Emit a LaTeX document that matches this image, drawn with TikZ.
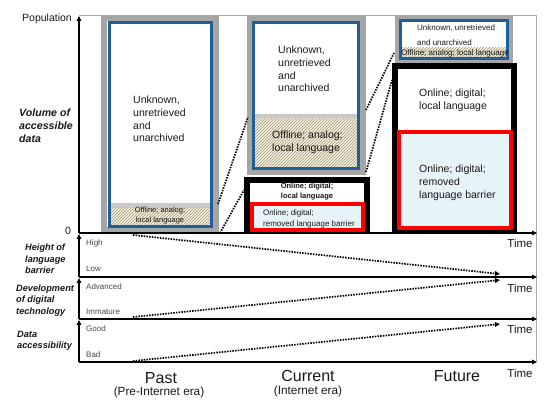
\documentclass[tikz,border=0pt]{standalone}
\usepackage{fontspec}
\setmainfont{Liberation Sans}
\usetikzlibrary{patterns,arrows.meta}
\definecolor{boxgray}{RGB}{166,166,166}
\definecolor{boxblue}{RGB}{31,94,153}
\definecolor{hatchbg}{RGB}{243,239,222}
\definecolor{hatchln}{RGB}{165,155,125}
\definecolor{stripgray}{RGB}{200,200,200}
\definecolor{lightcyan}{RGB}{230,243,247}
\definecolor{framegray}{RGB}{170,170,170}
\definecolor{txt}{RGB}{25,25,25}
\begin{document}
\begin{tikzpicture}[x=1pt,y=-1pt,
  graybox/.style={draw=boxgray,line width=6pt},
  bluebox/.style={draw=boxblue,line width=3pt},
  blackbox/.style={draw=black,line width=5.5pt},
  redbox/.style={draw=red,line width=4pt,fill=lightcyan},
  hatchfill/.style={pattern=north east lines,pattern color=hatchln},
  axisline/.style={line width=1.8pt,draw=black},
  axisarrow/.style={axisline,-{Triangle[length=5pt,width=4.5pt]}},
  dotline/.style={line width=1.7pt,dash pattern=on 1.5pt off 1.2pt},
  dotarrow/.style={dotline,-{Triangle[length=5pt,width=4.5pt]}},
  lbl/.style={inner sep=0pt,text=txt,font=\fontsize{10.5}{12.8}\selectfont,align=left,anchor=west},
  sidelbl/.style={inner sep=0pt,text=txt,font=\fontsize{9.2}{11.4}\selectfont\bfseries\itshape,align=left,anchor=west},
  ticklbl/.style={inner sep=0pt,text=txt!80,font=\fontsize{8}{9}\selectfont,anchor=west},
  timelbl/.style={inner sep=0pt,text=txt,font=\fontsize{11.5}{13}\selectfont},
  eralbl/.style={inner sep=0pt,text=txt,font=\fontsize{16}{18}\selectfont},
  erasub/.style={inner sep=0pt,text=txt,font=\fontsize{11.8}{13}\selectfont},
]
\useasboundingbox[fill=white] (0,0) rectangle (550,411);

% ---------- frame ----------
\draw[framegray,line width=1pt] (79,16) -- (536,16) -- (536,362);

% ---------- Past box ----------
\fill[white] (109,22.5) rectangle (211,226.5);
\fill[hatchbg] (109,204) rectangle (211,226.5);
\fill[hatchfill] (109,204) rectangle (211,226.5);
\fill[stripgray] (109,203) rectangle (211,208);
\draw[graybox] (104,18) rectangle (216,230);
\draw[bluebox] (109,22.5) rectangle (211,226.5);
\node[lbl] (pastunk) at (133,119) {Unknown,\\unretrieved\\and\\unarchived};
\node[inner sep=0pt,text=txt,font=\fontsize{7.5}{10}\selectfont,align=center] (pastoff) at (160,216) {Offline; analog;\\local language};

% ---------- Current boxes ----------
\fill[white] (253.5,22.3) rectangle (358.3,168.3);
\fill[hatchbg] (253.5,115) rectangle (358.3,168.3);
\fill[hatchfill] (253.5,115) rectangle (358.3,168.3);
\fill[stripgray] (253.5,114) rectangle (358.3,118);
\draw[graybox] (250,18) rectangle (363,172);
\draw[bluebox] (253.5,22.3) rectangle (358.3,168.3);
\node[lbl] (curunk) at (278,69) {Unknown,\\unretrieved\\and\\unarchived};
\node[lbl] (curoff) at (272,142) {Offline; analog;\\local language};

\fill[white] (247,180) rectangle (367,230.5);
\draw[blackbox] (247,180) rectangle (367,230.5);
\draw[redbox] (252,204.5) rectangle (363,230);
\node[inner sep=0pt,text=txt,font=\fontsize{7.5}{10}\selectfont\bfseries,align=center] (curloc) at (307,192) {Online; digital;\\local language};
\node[inner sep=0pt,text=txt,font=\fontsize{8}{11}\selectfont,align=left,anchor=west] (currem) at (263,218.5) {Online; digital;\\removed language barrier};

% ---------- Future boxes ----------
\fill[white] (400,21) rectangle (507,58.5);
\fill[hatchbg] (400,48) rectangle (507,58.5);
\fill[hatchfill] (400,48) rectangle (507,58.5);
\draw[graybox] (398,18) rectangle (510,60);
\draw[bluebox] (400,21) rectangle (507,58.5);
\node[inner sep=0pt,text=txt,font=\fontsize{8}{15}\selectfont,align=left,anchor=west] (futunk) at (417,35.5) {Unknown, unretrieved\\and unarchived};
\node[inner sep=0pt,text=txt,font=\fontsize{8}{10}\selectfont] (futoff) at (455,53) {Offline; analog; local language};

\fill[white] (395,66.3) rectangle (513.7,230);
\draw[blackbox,line width=6pt] (395,66.3) rectangle (513.7,230);
\draw[redbox] (399,132) rectangle (511,228);
\node[lbl] (futloc) at (419,100) {Online; digital;\\local language};
\node[lbl] (futrem) at (419,183) {Online; digital;\\removed\\language barrier};

% ---------- connector coordinates ----------
\coordinate (pastHatchTR) at (218,204);
\coordinate (curHatchTL) at (248,117);
\coordinate (pastBR) at (220,233);
\coordinate (curBlackL) at (244,190);
\coordinate (curHatchTR) at (366,110);
\coordinate (futOffL) at (394,53);
\coordinate (curGrayBR) at (366,172);
\coordinate (futBlackL) at (392,80);
\draw[dotline] (pastHatchTR) -- (curHatchTL);
\draw[dotline] (pastBR) -- (curBlackL);
\draw[dotline] (curHatchTR) -- (futOffL);
\draw[dotline] (curGrayBR) -- (futBlackL);

% ---------- axes ----------
\coordinate (o0) at (79,233);
\coordinate (ytop) at (79,16);
\coordinate (o1) at (79,277);
\coordinate (o2) at (79,319);
\coordinate (o3) at (79,362);
\coordinate (e0) at (537,233);
\coordinate (e1) at (537,277);
\coordinate (e2) at (537,319);
\coordinate (e3) at (537,362);
\coordinate (t1) at (79,234);
\coordinate (t2) at (79,278);
\coordinate (t3) at (79,320);
\draw[axisarrow] (o0) -- (ytop);
\draw[axisarrow] (o1) -- (t1);
\draw[axisarrow] (o2) -- (t2);
\draw[axisarrow] (o3) -- (t3);
\draw[axisarrow] (o0) -- (e0);
\draw[axisarrow] (o1) -- (e1);
\draw[axisarrow] (o2) -- (e2);
\draw[axisarrow] (o3) -- (e3);

\node[inner sep=0pt,text=txt,font=\fontsize{10.5}{12}\selectfont,anchor=east] (pop) at (72,19) {Population};
\node[inner sep=0pt,text=txt,font=\fontsize{10.5}{12}\selectfont] (zero) at (68,231) {0};
\node[sidelbl,font=\fontsize{10.6}{13}\selectfont\bfseries\itshape] (vol) at (19,126) {Volume of\\accessible\\data};

\node[sidelbl] (hgt) at (25,259) {Height of\\language\\barrier};
\node[sidelbl] (dev) at (16,300.5) {Development\\of digital\\technology};
\node[sidelbl] (acc) at (17,341) {Data\\accessibility};

\node[ticklbl] (high) at (86,243) {High};
\node[ticklbl] (low) at (86,269) {Low};
\node[ticklbl] (adv) at (86,287) {Advanced};
\node[ticklbl] (imm) at (86,312) {Immature};
\node[ticklbl] (good) at (86,329) {Good};
\node[ticklbl] (bad) at (86,355) {Bad};

\node[timelbl] (time0) at (520,243) {Time};
\node[timelbl] (time1) at (520,288) {Time};
\node[timelbl] (time2) at (520,329) {Time};
\node[timelbl] (time3) at (520,373) {Time};

% ---------- trend arrows ----------
\coordinate (lbS) at (133,235);
\coordinate (lbE) at (500,274);
\coordinate (dtS) at (133,317);
\coordinate (dtE) at (500,280);
\coordinate (daS) at (133,361);
\coordinate (daE) at (500,324);
\draw[dotarrow] (lbS) -- (lbE);
\draw[dotarrow] (dtS) -- (dtE);
\draw[dotarrow] (daS) -- (daE);

% ---------- era labels ----------
\node[eralbl] (past) at (161,378) {Past};
\node[erasub] (pastsub) at (159,392) {(Pre-Internet era)};
\node[eralbl] (cur) at (308,376) {Current};
\node[erasub] (cursub) at (308,391) {(Internet era)};
\node[eralbl] (fut) at (457,376) {Future};
\end{tikzpicture}
\end{document}
